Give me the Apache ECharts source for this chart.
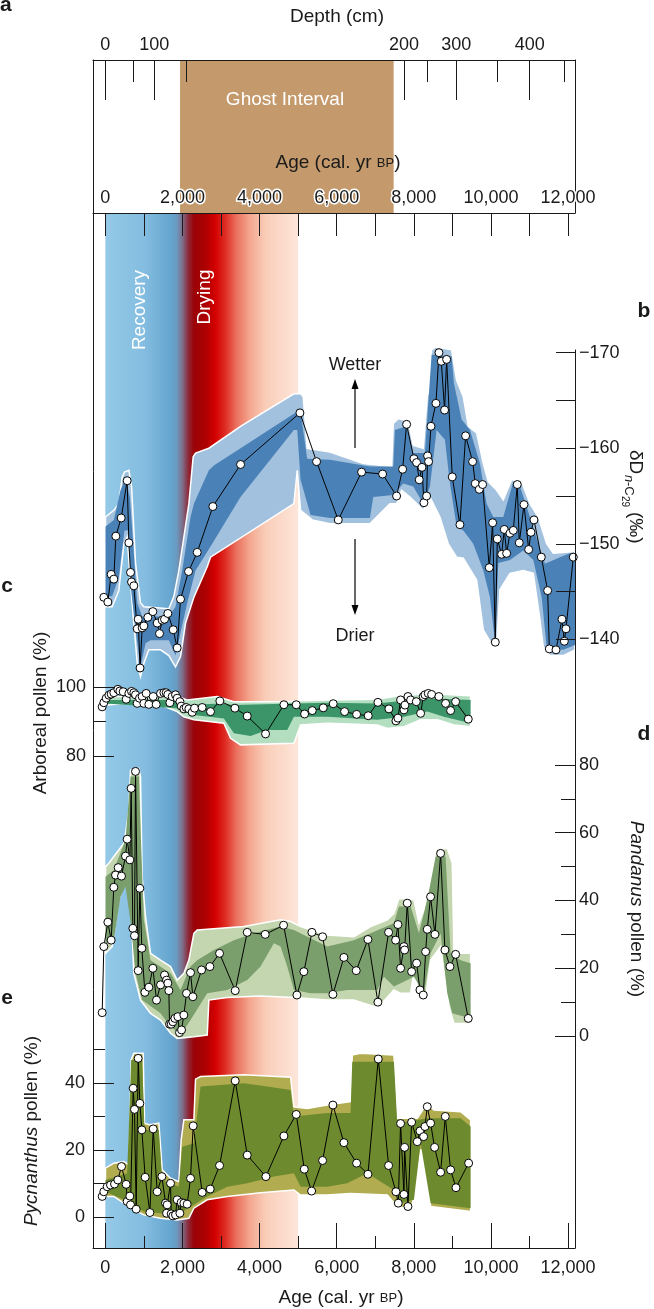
<!DOCTYPE html>
<html>
<head>
<meta charset="utf-8">
<script src="https://cdn.jsdelivr.net/npm/echarts@6/dist/echarts.min.js"></script>
<style>
html, body { margin: 0; padding: 0; background: #fff; }
#chart { width: 654px; height: 1309px; }
</style>
</head>
<body>
<div id="chart"></div>
<script>
// ages in cal. yr BP
var ageMajor = [0, 2000, 4000, 6000, 8000, 10000, 12000];
var ageMinor = [1000, 3000, 5000, 7000, 9000, 11000];
// depth scale (cm) placed at the matching age
var depthMajor = [0, 100, 200, 300, 400];
var depthMajorAge = [0, 1266, 7747, 9100, 11004];
var depthMinorAge = [714, 2099, 8353, 10171, 11913];
var ghostInterval = [1937, 7477];
var climateBand = [0, 5000];

// b: dD n-C29 (permil)
var dD = [[-39,-144.4],[65,-143.9],[151,-146.8],[220,-146.3],[272,-150.8],[411,-152.7],[566,-156.6],[610,-150.1],[653,-147.0],[679,-146.0],[739,-145.6],[826,-141.1],[852,-142.1],[900,-137.0],[955,-141.2],[1000,-141.4],[1102,-142.3],[1232,-142.9],[1345,-141.7],[1405,-140.6],[1474,-142.0],[1535,-142.1],[1621,-142.7],[1760,-141.0],[1863,-139.1],[1950,-144.2],[2158,-147.1],[2383,-149.1],[2789,-153.9],[3507,-158.3],[5046,-163.7],[5478,-158.6],[6040,-152.5],[6645,-157.5],[7190,-157.3],[7553,-155.0],[7709,-157.8],[7813,-162.5],[8003,-158.9],[8072,-158.5],[8141,-156.7],[8211,-158.0],[8262,-154.3],[8332,-155.0],[8358,-159.2],[8383,-158.6],[8444,-162.3],[8574,-164.7],[8652,-170.0],[8712,-169.1],[8798,-164.0],[8851,-169.3],[8997,-157.0],[9196,-152.0],[9343,-161.3],[9525,-158.6],[9594,-156.3],[9698,-155.7],[9784,-156.2],[9957,-147.5],[10044,-152.2],[10113,-139.7],[10165,-150.5],[10277,-148.9],[10346,-151.5],[10407,-149.0],[10493,-151.1],[10580,-151.4],[10683,-156.2],[10735,-150.1],[10857,-154.1],[10978,-149.4],[11038,-151.2],[11116,-152.5],[11306,-148.6],[11471,-145.1],[11514,-139.0],[11687,-138.9],[11842,-142.1],[11903,-139.8],[11946,-141.1],[12136,-148.6]];
var dDOuterUp = [[4,-152.8],[220,-153.5],[350,-154.2],[437,-157.0],[497,-157.5],[610,-157.7],[679,-156.0],[722,-152.8],[783,-148.0],[912,-143.8],[999,-143.4],[1647,-143.2],[1777,-144.5],[1906,-147.2],[2036,-150.7],[2166,-154.2],[2278,-159.1],[2339,-159.5],[2685,-160.0],[3506,-162.3],[4890,-165.7],[5063,-165.7],[5132,-165.4],[5235,-160.0],[5824,-159.6],[6689,-158.4],[7424,-158.1],[7467,-162.6],[7597,-163.1],[7856,-162.8],[7986,-160.3],[8245,-160.0],[8349,-165.4],[8418,-166.4],[8461,-170.3],[8574,-170.6],[8980,-170.3],[9110,-167.1],[9283,-165.4],[9413,-162.3],[9629,-161.6],[9802,-158.4],[9931,-156.5],[10148,-155.6],[10320,-154.6],[10537,-156.7],[10796,-156.5],[11012,-154.2],[11228,-152.8],[11445,-150.0],[11617,-149.0],[12180,-149.2]];
var dDOuterLow = [[4,-143.4],[177,-143.4],[350,-145.1],[480,-150.0],[566,-150.7],[653,-145.8],[739,-141.7],[826,-137.5],[912,-136.1],[999,-137.5],[1128,-138.9],[1431,-138.9],[1647,-138.3],[1820,-137.1],[1950,-138.2],[2080,-141.7],[2296,-144.4],[2642,-147.6],[2728,-148.6],[4890,-154.2],[4977,-157.7],[5063,-153.5],[5365,-152.5],[5824,-152.1],[6862,-152.1],[7380,-154.2],[7553,-154.2],[7683,-155.6],[7899,-154.9],[8072,-154.2],[8245,-153.5],[8418,-154.9],[8677,-152.8],[8893,-150.0],[9110,-148.6],[9283,-148.5],[9629,-146.2],[9802,-141.0],[10061,-139.2],[10148,-139.4],[10234,-145.2],[10493,-146.9],[10839,-147.2],[11099,-146.9],[11272,-142.0],[11358,-139.2],[11531,-138.3],[11877,-138.3],[12180,-138.9]];
var dDInnerUp = [[4,-151.8],[220,-152.5],[393,-155.6],[523,-156.8],[636,-154.9],[722,-150.0],[826,-143.8],[955,-142.4],[1647,-142.4],[1820,-143.4],[1993,-147.2],[2209,-152.8],[2296,-154.2],[2685,-157.7],[2815,-158.2],[4890,-163.6],[5063,-163.8],[5235,-158.9],[5824,-158.8],[6862,-158.1],[7467,-158.1],[7510,-161.9],[7813,-162.3],[7986,-159.5],[8288,-159.5],[8375,-164.7],[8461,-169.8],[8980,-169.6],[9040,-166.8],[9240,-163.0],[9456,-161.9],[9715,-158.4],[9888,-154.2],[10061,-152.8],[10320,-152.8],[10580,-156.5],[10753,-156.0],[11012,-152.8],[11228,-150.0],[11401,-147.9],[11790,-148.6],[12049,-149.0],[12180,-149.0]];
var dDInnerLow = [[4,-144.5],[177,-144.5],[350,-146.5],[497,-151.4],[610,-151.4],[670,-145.1],[783,-141.0],[912,-137.1],[1042,-139.6],[1172,-139.9],[1647,-139.9],[1820,-138.3],[1967,-141.0],[2123,-143.8],[2339,-147.2],[2555,-148.6],[2771,-150.0],[3506,-154.9],[4890,-161.9],[4977,-161.9],[5063,-156.7],[5322,-153.0],[5824,-152.7],[6862,-152.7],[6948,-154.9],[7467,-155.1],[7726,-156.3],[7986,-156.0],[8245,-154.2],[8418,-156.0],[8591,-161.9],[8807,-160.9],[8937,-156.3],[9110,-151.8],[9283,-151.4],[9542,-150.0],[9802,-147.2],[9975,-144.4],[10105,-139.7],[10191,-148.0],[10493,-148.3],[10839,-149.3],[11099,-148.3],[11315,-144.4],[11445,-139.2],[11877,-138.9],[12180,-139.4]];

// c: arboreal pollen (%)
var arboreal = [[-82,94.3],[-39,95.5],[22,96.8],[91,97.7],[151,98.0],[220,98.4],[324,99.4],[376,98.9],[463,98.7],[540,96.5],[610,98.2],[679,98.8],[739,98.4],[783,97.8],[826,95.3],[886,96.8],[955,97.3],[999,95.3],[1059,98.2],[1128,95.0],[1241,97.3],[1319,95.0],[1431,98.2],[1518,98.4],[1578,98.4],[1621,97.9],[1673,95.5],[1734,97.3],[1820,97.8],[1863,96.8],[1933,95.8],[1967,94.5],[2036,93.7],[2097,94.1],[2166,93.7],[2252,92.7],[2313,93.9],[2512,94.1],[2728,92.9],[2970,96.0],[3360,93.9],[3680,91.6],[4155,86.4],[4631,94.9],[4951,94.9],[5167,92.2],[5366,93.2],[5651,94.0],[5910,95.2],[6204,92.9],[6516,92.1],[6818,91.7],[7069,95.6],[7354,93.7],[7536,90.2],[7588,91.0],[7657,96.3],[7744,93.4],[7770,94.8],[7848,97.3],[7917,96.3],[8064,95.8],[8176,92.4],[8245,97.3],[8289,97.8],[8375,98.2],[8461,97.9],[8651,97.3],[8824,95.3],[8954,93.2],[9084,95.8],[9412,90.7]];
var arborealOuterUp = [[4,97.3],[1863,97.3],[2123,96.3],[2901,97.3],[3334,95.8],[4717,95.8],[5063,96.1],[5754,96.3],[7052,96.5],[7484,97.3],[8003,97.8],[8349,98.2],[9473,97.5]];
var arborealOuterLow = [[4,94.8],[566,95.3],[1431,94.8],[1863,92.9],[2036,91.4],[2296,90.5],[3074,89.5],[3247,85.1],[3506,83.2],[4890,83.7],[5063,89.0],[5754,89.5],[7052,89.0],[7311,88.0],[7744,88.5],[8176,90.5],[8608,90.5],[9041,89.0],[9473,88.5]];
var arborealInnerUp = [[4,96.3],[1863,96.3],[2123,94.8],[2988,95.3],[3334,94.8],[4890,95.3],[5754,95.5],[7052,95.3],[7484,95.8],[8349,96.8],[9473,96.3]];
var arborealInnerLow = [[4,95.3],[1863,93.9],[2296,91.9],[3074,90.9],[3334,86.6],[3766,85.8],[4198,87.5],[4717,87.5],[4890,91.4],[5754,91.4],[7052,90.5],[7744,91.4],[8349,92.9],[8781,91.4],[9473,89.5]];

// d: Pandanus pollen (%)
var pandanus = [[-82,6.9],[-39,26.4],[65,33.6],[151,28.3],[220,43.9],[264,47.5],[333,49.7],[419,47.2],[523,53.1],[566,58.1],[636,52.0],[670,73.1],[713,31.8],[756,29.6],[783,78.1],[852,19.3],[895,43.6],[947,25.9],[1025,12.9],[1128,14.4],[1232,20.0],[1327,10.6],[1431,15.1],[1535,18.0],[1587,16.5],[1621,15.6],[1647,13.4],[1665,3.5],[1708,3.5],[1751,4.2],[1803,5.2],[1881,5.7],[1924,1.0],[1976,1.8],[2036,6.2],[2106,12.6],[2209,18.7],[2270,11.6],[2495,19.5],[2711,20.5],[2962,24.4],[3368,13.4],[3680,30.6],[4146,30.0],[4622,32.7],[4968,12.1],[5149,19.0],[5357,30.6],[5634,29.3],[5902,12.3],[6187,23.2],[6507,19.3],[6810,28.5],[7069,10.0],[7346,30.6],[7528,28.3],[7588,32.9],[7657,20.0],[7744,26.4],[7761,25.4],[7830,39.2],[7943,19.0],[8073,21.5],[8159,13.6],[8245,12.1],[8306,24.9],[8349,31.5],[8435,41.1],[8548,30.0],[8695,53.9],[8807,25.4],[8937,20.5],[9084,24.1],[9412,5.2]];
var pandanusOuterUp = [[4,50.0],[91,51.0],[220,53.0],[480,56.9],[523,59.8],[610,66.7],[653,78.5],[869,79.0],[912,76.6],[955,47.0],[1042,35.2],[1172,24.4],[1431,22.4],[1691,20.5],[1863,16.5],[2036,18.5],[2166,22.4],[2296,30.3],[2382,31.3],[2988,31.8],[3593,32.3],[4544,34.3],[4804,33.8],[5063,32.3],[5754,29.8],[6446,29.3],[6879,32.3],[7311,34.3],[7484,36.2],[7614,40.6],[8003,40.2],[8133,33.3],[8262,37.2],[8349,42.1],[8478,44.1],[8565,54.9],[8868,55.4],[8997,51.0],[9041,24.4],[9473,24.4]];
var pandanusOuterLow = [[4,24.4],[177,26.4],[350,40.2],[523,46.1],[653,42.1],[739,18.5],[912,10.6],[1172,6.7],[1431,4.7],[1691,0.8],[1863,-0.7],[2296,-0.2],[2642,0.3],[2685,10.6],[3161,11.4],[4025,11.8],[4890,11.4],[5754,10.6],[6446,10.6],[6965,8.7],[7138,9.2],[7484,13.6],[7657,12.6],[7917,12.6],[8020,20.5],[8133,11.1],[8306,11.1],[8435,22.4],[8695,26.4],[8911,8.7],[9041,3.7],[9473,3.7]];
var pandanusInnerUp = [[4,47.0],[220,49.0],[523,57.9],[653,76.6],[869,76.6],[912,61.8],[999,34.3],[1172,22.4],[1691,18.5],[1950,13.6],[2209,20.5],[2382,22.4],[2815,25.4],[3334,28.3],[3853,30.3],[4544,32.3],[4890,31.3],[5754,26.4],[6446,28.3],[6879,30.3],[7484,33.3],[7614,38.2],[7917,38.2],[8133,30.3],[8349,40.2],[8565,53.0],[8824,53.0],[8954,24.4],[9213,22.4],[9473,21.5]];
var pandanusInnerLow = [[4,27.4],[220,28.3],[393,41.1],[523,44.1],[670,32.3],[783,18.5],[955,10.6],[1431,6.7],[1691,2.8],[1950,0.3],[2209,4.7],[2642,12.6],[3161,13.6],[3680,16.5],[4025,20.5],[4371,27.4],[4544,26.4],[4717,20.5],[4890,13.6],[5322,12.6],[5754,12.6],[6273,13.6],[7052,13.6],[7225,17.5],[7484,14.6],[8003,17.5],[8262,12.6],[8435,24.4],[8695,30.3],[8868,12.6],[8997,6.7],[9473,5.2]];

// e: Pycnanthus pollen (%)
var pycnanthus = [[-82,6.2],[-39,7.6],[48,9.1],[134,9.6],[238,9.9],[324,11.1],[419,15.1],[540,9.8],[566,4.7],[635,6.3],[653,3.7],[722,38.4],[756,32.1],[800,2.4],[852,47.3],[895,33.9],[947,26.0],[1033,11.9],[1155,1.4],[1241,26.3],[1345,7.6],[1466,12.1],[1561,4.2],[1587,1.2],[1604,3.7],[1691,10.1],[1708,1.0],[1751,0.4],[1820,0.7],[1863,5.2],[1933,1.2],[1967,4.4],[2036,4.2],[2122,3.9],[2209,11.6],[2278,27.2],[2512,7.4],[2720,8.4],[2962,15.4],[3368,40.6],[3680,18.5],[4164,12.1],[4631,24.2],[4951,30.6],[5159,14.3],[5349,7.8],[5634,16.9],[5902,33.4],[6187,22.2],[6516,16.1],[6810,12.8],[7078,47.1],[7346,15.4],[7536,7.6],[7597,4.2],[7657,27.9],[7744,6.8],[7761,20.8],[7848,3.2],[7943,28.3],[8090,22.5],[8159,25.7],[8254,24.0],[8289,27.0],[8349,32.9],[8435,28.0],[8539,20.8],[8695,13.4],[8816,30.0],[8954,14.1],[9093,8.8],[9421,16.1]];
var pycnanthusOuterUp = [[4,14.6],[220,16.1],[480,16.6],[610,15.6],[670,46.8],[739,48.8],[981,48.8],[1016,28.0],[1154,27.5],[1388,28.0],[1474,14.1],[1691,11.6],[1906,10.6],[1967,23.0],[2036,29.0],[2296,29.0],[2339,41.1],[2469,41.9],[3593,42.4],[4804,41.7],[4890,32.9],[5235,32.4],[5754,33.4],[6360,34.4],[6403,48.3],[6619,48.8],[7484,48.3],[7571,29.5],[8090,29.5],[8349,33.9],[8522,31.9],[9213,31.4],[9473,29.0]];
var pycnanthusOuterLow = [[4,6.2],[220,6.2],[480,4.2],[739,2.2],[999,0.7],[1431,-0.3],[1863,-0.8],[2166,-0.3],[2296,2.7],[2642,5.2],[3161,6.2],[4025,7.3],[4890,8.1],[5063,6.6],[5754,6.6],[6360,7.1],[7311,6.6],[7528,3.7],[7917,2.0],[8003,6.2],[8176,20.0],[8349,20.0],[8435,3.2],[9473,1.7]];
var pycnanthusInnerUp = [[4,11.1],[566,13.1],[670,46.8],[955,46.8],[1016,26.0],[1388,26.0],[1474,11.1],[1906,9.1],[1993,21.0],[2296,22.0],[2469,38.9],[3593,39.9],[4198,38.9],[4804,37.9],[4890,30.0],[5754,31.0],[6360,31.0],[6403,46.3],[7484,46.3],[7571,28.0],[8349,29.5],[9213,29.5],[9473,27.0]];
var pycnanthusInnerLow = [[4,7.6],[480,5.2],[999,1.7],[1863,0.7],[2296,3.7],[2642,6.2],[3161,9.1],[3680,10.1],[4371,12.1],[4890,13.1],[5063,9.1],[5754,9.1],[6273,10.1],[6792,13.1],[7484,8.1],[7657,4.2],[8003,5.2],[8176,22.0],[8435,4.2],[9473,2.7]];

var AGE_MIN = -320, AGE_MAX = 12180;
var PLOT_LEFT = 93, PLOT_WIDTH = 482;
var PX_PER_YR = PLOT_WIDTH / (AGE_MAX - AGE_MIN);
var FONT = "'Liberation Sans', Arial, sans-serif";
var INK = '#1a1a1a';

var chart = echarts.init(document.getElementById('chart'), null, {renderer: 'canvas'});

var fmtAge = function (v) { return v.toLocaleString('en-US'); };
var lbl = function (extra) {
    return Object.assign({fontSize: 18, color: INK, fontFamily: FONT}, extra);
};
var line = {lineStyle: {color: INK, width: 1}};
var noLine = {show: false, onZero: false};
var yesLine = {show: true, onZero: false, lineStyle: {color: INK, width: 1}};

var grids = [
    [60, 153], [60, 153], [60, 153],        // top panel: age labels, depth major, depth minor
    [213, 1035], [213, 1035],               // main panel: band + bottom axis, minor ticks
    [350, 898],                             // right frame line
    [333.6, 348.7],                         // b
    [680.4, 82.3], [680.4, 82.3],           // c
    [758.2, 284.6], [758.2, 284.6],         // d
    [1045.9, 201.6], [1045.9, 201.6]        // e
].map(function (g) {
    return {left: PLOT_LEFT, top: g[0], width: PLOT_WIDTH, height: g[1], containLabel: false, outerBoundsMode: 'none'};
});
// strip under the top age axis spanning exactly 0..12000, so ticks can use a plain 1000 interval
grids.push({left: PLOT_LEFT + (0 - AGE_MIN) * PX_PER_YR, top: 213, width: 12000 * PX_PER_YR, height: 23,
    containLabel: false, outerBoundsMode: 'none'});

var xAxis = grids.map(function (g, i) {
    return {type: 'value', gridIndex: i, min: AGE_MIN, max: AGE_MAX, show: false, axisLine: noLine, splitLine: {show: false}, z: 5};
});
xAxis[0] = Object.assign(xAxis[0], {
    show: true, position: 'bottom', axisLine: yesLine, axisTick: {show: false},
    axisLabel: lbl({inside: true, margin: 6, customValues: ageMajor, formatter: fmtAge, textBorderColor: '#fff', textBorderWidth: 3})
});
xAxis[1] = Object.assign(xAxis[1], {
    show: true, position: 'top', axisLine: yesLine,
    axisTick: Object.assign({show: true, inside: true, length: 40, customValues: depthMajorAge}, line),
    axisLabel: lbl({margin: 6, customValues: depthMajorAge, formatter: function (v) { return String(depthMajor[depthMajorAge.indexOf(v)]); }})
});
xAxis[2] = Object.assign(xAxis[2], {
    show: true, position: 'top', axisLine: noLine,
    axisTick: Object.assign({show: true, inside: true, length: 22, customValues: depthMinorAge}, line),
    axisLabel: {show: false}
});
xAxis[3] = Object.assign(xAxis[3], {
    show: true, position: 'bottom', axisLine: yesLine,
    axisTick: Object.assign({show: true, inside: true, length: 25, customValues: ageMajor}, line),
    axisLabel: lbl({margin: 11, customValues: ageMajor, formatter: fmtAge})
});
xAxis[4] = Object.assign(xAxis[4], {
    show: true, position: 'bottom', axisLine: noLine,
    axisTick: Object.assign({show: true, inside: true, length: 12, customValues: ageMinor}, line),
    axisLabel: {show: false}
});
xAxis[13] = {
    type: 'value', gridIndex: 13, min: 0, max: 12000, interval: 1000, show: true, position: 'top', z: 6,
    axisLine: noLine, axisLabel: {show: false},
    axisTick: Object.assign({show: true, inside: true, length: 23}, line),
    splitLine: {show: true, lineStyle: {color: INK, width: 1}}
};

function frameY(i, pos) {
    return {type: 'value', gridIndex: i, min: 0, max: 1, position: pos, z: 5,
        axisLine: yesLine, axisTick: {show: false}, axisLabel: {show: false}, splitLine: {show: false}};
}
function hiddenY(i) {
    return {type: 'value', gridIndex: i, min: 0, max: 1, show: false, axisLine: noLine};
}
function tickY(i, pos, min, max, ticks, len, labels, margin, extra) {
    return Object.assign({type: 'value', gridIndex: i, min: min, max: max, position: pos, z: 5,
        axisLine: noLine, splitLine: {show: false},
        axisTick: Object.assign({show: true, inside: true, length: len, customValues: ticks}, line),
        axisLabel: labels ? lbl({margin: margin, customValues: labels}) : {show: false}}, extra || {});
}
var yAxis = [
    frameY(0, 'left'),
    frameY(1, 'right'),
    hiddenY(2),
    frameY(3, 'left'),
    hiddenY(4),
    frameY(5, 'right'),
    tickY(6, 'right', -172, -135.5, [-170, -165, -160, -155, -150, -145, -140], 19, null, 0, {inverse: true,
        axisLabel: lbl({margin: 4, customValues: [-170, -160, -150, -140], formatter: function (v) { return '\u2212' + Math.abs(v); }})}),
    tickY(7, 'left', 78, 102, [80, 100], 21, [80, 100], 7),
    tickY(8, 'left', 78, 102, [90], 13, null, 0),
    tickY(9, 'right', -2, 82, [0, 20, 40, 60, 80], 20, [0, 20, 40, 60, 80], 4),
    tickY(10, 'right', -2, 82, [10, 30, 50, 70], 14, null, 0),
    tickY(11, 'left', -9, 51, [0, 20, 40], 21, [0, 20, 40], 8),
    tickY(12, 'left', -9, 51, [10, 30, 50], 12, null, 0),
    hiddenY(13)
];

function envelope(idx, upper, lower, fill, outline) {
    return {
        type: 'custom', xAxisIndex: idx, yAxisIndex: idx, data: [upper[0]], silent: true, clip: false, z: 2,
        renderItem: function (params, api) {
            var pts = upper.map(function (p) { return api.coord(p); });
            for (var i = lower.length - 1; i >= 0; i--) pts.push(api.coord(lower[i]));
            return {type: 'polygon', shape: {points: pts},
                style: outline ? {fill: fill, stroke: '#fff', lineWidth: 1.5} : {fill: fill}};
        }
    };
}
function dots(idx, data) {
    return {type: 'line', xAxisIndex: idx, yAxisIndex: idx, data: data, symbol: 'circle', symbolSize: 8,
        showAllSymbol: true, clip: false, z: 3, silent: true,
        lineStyle: {color: '#000', width: 1},
        itemStyle: {color: '#fff', borderColor: '#000', borderWidth: 1}};
}
function spanRect(idx, span, fill, z) {
    return {
        type: 'custom', xAxisIndex: idx, yAxisIndex: idx, data: [[span[0], 0.5]], silent: true, z: z,
        renderItem: function (params, api) {
            var a = api.coord([span[0], 1]), b = api.coord([span[1], 0]);
            return {type: 'rect', shape: {x: a[0], y: a[1], width: b[0] - a[0], height: b[1] - a[1]}, style: {fill: fill}};
        }
    };
}

var bandFill = new echarts.graphic.LinearGradient(0, 0, 1, 0, [
    {offset: 0, color: '#94c9e7'}, {offset: 0.2, color: '#84bde0'}, {offset: 0.34, color: '#65a5cf'},
    {offset: 0.37, color: '#6a9ac0'}, {offset: 0.40, color: '#7d6e8a'}, {offset: 0.43, color: '#8c2a3a'},
    {offset: 0.46, color: '#9a0308'}, {offset: 0.52, color: '#ad0000'}, {offset: 0.57, color: '#d30000'},
    {offset: 0.62, color: '#de2a22'}, {offset: 0.68, color: '#ea705e'}, {offset: 0.75, color: '#f4a78f'},
    {offset: 0.83, color: '#f9cdb8'}, {offset: 1, color: '#fde6da'}
]);

var series = [
    spanRect(0, ghostInterval, '#c49a6c', 1),
    spanRect(3, climateBand, bandFill, 0),
    envelope(6, dDOuterUp, dDOuterLow, '#a2c1de', true),
    envelope(6, dDInnerUp, dDInnerLow, '#4a82b8', false),
    dots(6, dD),
    envelope(7, arborealOuterUp, arborealOuterLow, '#b4dec0', true),
    envelope(7, arborealInnerUp, arborealInnerLow, '#3b9568', false),
    dots(7, arboreal),
    envelope(9, pandanusOuterUp, pandanusOuterLow, '#c4d6b0', true),
    envelope(9, pandanusInnerUp, pandanusInnerLow, '#7b9f6c', false),
    dots(9, pandanus),
    envelope(11, pycnanthusOuterUp, pycnanthusOuterLow, '#b0ac4f', true),
    envelope(11, pycnanthusInnerUp, pycnanthusInnerLow, '#6d8b2e', false),
    dots(11, pycnanthus)
];

function text(x, y, str, size, opt) {
    opt = opt || {};
    var st = {text: str, fill: opt.color || INK, font: (opt.weight || 'normal') + ' ' + size + 'px ' + FONT,
        align: opt.align || 'center', verticalAlign: 'middle', textAlign: opt.align || 'center', textVerticalAlign: 'middle'};
    if (opt.rich) st.rich = opt.rich;
    return {type: 'text', x: x, y: y, rotation: opt.rot || 0, z: 100, silent: true, style: st};
}
var italic = {i: {fontStyle: 'italic', fontSize: 19, fontFamily: FONT, fill: INK}};
var ageRich = {n: {fontSize: 19, fontFamily: FONT, fill: INK}, s: {fontSize: 13, fontFamily: FONT, fill: INK}};
var ageTitle = '{n|Age (cal. yr }{s|BP}{n|)}';
var arrowStyle = {stroke: '#000', lineWidth: 1.2};

var graphic = [
    text(0, 5, 'a', 21, {weight: 'bold', align: 'left'}),
    text(337, 17, 'Depth (cm)', 19),
    text(285, 100, 'Ghost Interval', 19, {color: '#fff'}),
    text(338, 163, ageTitle, 19, {rich: ageRich}),
    text(140, 310, 'Recovery', 19, {color: '#fff', rot: Math.PI / 2}),
    text(205, 297, 'Drying', 19, {color: '#fff', rot: Math.PI / 2}),
    text(644, 311, 'b', 21, {weight: 'bold'}),
    text(355, 365, 'Wetter', 18),
    {type: 'line', z: 100, silent: true, shape: {x1: 355, y1: 448, x2: 355, y2: 386}, style: arrowStyle},
    {type: 'polygon', z: 100, silent: true, shape: {points: [[355, 379], [351.5, 389], [358.5, 389]]}, style: {fill: '#000'}},
    {type: 'line', z: 100, silent: true, shape: {x1: 355, y1: 539, x2: 355, y2: 608}, style: arrowStyle},
    {type: 'polygon', z: 100, silent: true, shape: {points: [[355, 615], [351.5, 605], [358.5, 605]]}, style: {fill: '#000'}},
    text(355, 636, 'Drier', 18),
    {type: 'group', x: 635, y: 497, rotation: -Math.PI / 2, z: 100, silent: true, children: [
        text(-47, 0, '\u03b4D', 19, {align: 'left'}),
        text(-22, 6, '{i|n}', 13, {align: 'left', rich: {i: {fontStyle: 'italic', fontSize: 13, fontFamily: FONT, fill: INK}}}),
        text(-15, 6, '-C', 13, {align: 'left'}),
        text(-1, 10, '29', 10, {align: 'left'}),
        text(15, 0, '(\u2030)', 19, {align: 'left'})
    ]},
    text(7, 586, 'c', 21, {weight: 'bold'}),
    text(41, 713, 'Arboreal pollen (%)', 19, {rot: Math.PI / 2}),
    text(644, 734, 'd', 21, {weight: 'bold'}),
    text(636, 909, '{i|Pandanus} pollen (%)', 19, {rot: -Math.PI / 2, rich: italic}),
    text(7, 998, 'e', 21, {weight: 'bold'}),
    text(32, 1131, '{i|Pycnanthus} pollen (%)', 19, {rot: Math.PI / 2, rich: italic}),
    text(341, 1298, ageTitle, 19, {rich: ageRich})
];

chart.setOption({
    animation: false,
    backgroundColor: '#fff',
    grid: grids,
    xAxis: xAxis,
    yAxis: yAxis,
    series: series,
    graphic: graphic
});
</script>
</body>
</html>
